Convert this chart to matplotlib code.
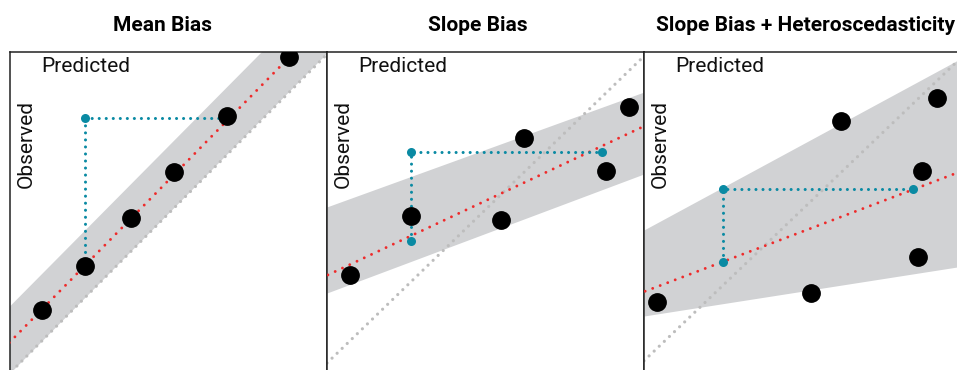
import matplotlib
matplotlib.use("Agg")
import matplotlib.pyplot as plt
import numpy as np

# ---- data (axis units 0-100) ----
titles = ["Mean Bias", "Slope Bias", "Slope Bias + Heteroscedasticity"]

obs_x = [
    [10.1, 23.7, 38.2, 51.7, 68.5, 88.0],
    [7.3, 26.5, 54.9, 62.1, 88.0, 95.3],
    [4.1, 52.7, 62.1, 86.4, 87.7, 92.4],
]
obs_y = [
    [19.4, 33.1, 48.1, 62.5, 80.0, 98.4],
    [30.3, 48.8, 47.5, 73.1, 62.8, 82.8],
    [21.9, 24.7, 78.4, 35.9, 62.8, 85.6],
]

# fitted line: intercept, slope
fit_intercept = [9.4, 30.2, 25.1]
fit_slope = [1.01, 0.466, 0.376]

# spread band edges at x = 0 and x = 100
band_x = [0, 100]
band_lower = [[-0.6, 99.4], [24.7, 61.9], [17.5, 33.0]]
band_upper = [[20.5, 120.5], [51.6, 87.5], [44.4, 98.0]]

# reference (1:1) line at x = 0 and x = 100
ref_x = [0, 100]
ref_y = [[-0.3, 99.3], [2.8, 98.7], [3.5, 98.2]]

# two predicted points joined by the guide (a = lower-left, b = right)
guide_xa = [23.7, 26.5, 24.9]
guide_ya = [33.1, 41.0, 34.4]
guide_xb = [68.5, 86.8, 84.9]
guide_yb = [79.4, 68.8, 57.2]
guide_all_dots = [False, True, True]

RED = "#ee2b2b"
TEAL = "#0a8aa3"
BAND = "#d1d2d4"
REF = "#bdbdbd"

W, H = 957, 370
fig = plt.figure(figsize=(W / 100, H / 100), dpi=100)

panel_w = 317
panel_h = 320
top_px = 52


def dotted(period_px, lw_pt):
    # round dots: near-zero dash with round caps, gap set in linewidth units
    lw_px = lw_pt * 100 / 72
    return (0, (0.01, period_px / lw_px))


for i in range(3):
    left_px = 10 + panel_w * i
    ax = fig.add_axes([left_px / W, (H - top_px - panel_h) / H,
                       panel_w / W, panel_h / H])
    ax.set_xlim(0, 100)
    ax.set_ylim(0, 100)
    ax.set_xticks([])
    ax.set_yticks([])
    for s in ax.spines.values():
        s.set_linewidth(1.1)
        s.set_color("#222222")

    bx = np.array(band_x)
    ax.fill_between(bx, band_lower[i], band_upper[i], color=BAND, lw=0, zorder=1)

    ax.plot(ref_x, ref_y[i], color=REF, lw=2.3, ls=dotted(7.0, 2.3),
            dash_capstyle="round", zorder=2)

    fx = np.array([-2.0, 102.0])
    ax.plot(fx, fit_intercept[i] + fit_slope[i] * fx, color=RED, lw=2.1,
            ls=dotted(8.0, 2.1), dash_capstyle="round", zorder=3)

    xa, ya = guide_xa[i], guide_ya[i]
    xb, yb = guide_xb[i], guide_yb[i]
    ax.plot([xa, xa, xb], [ya, yb, yb], color=TEAL, lw=2.2,
            ls=dotted(7.0, 2.2), dash_capstyle="round", zorder=4)

    ax.plot(obs_x[i], obs_y[i], "o", color="black", ms=12.5, zorder=5)

    if guide_all_dots[i]:
        ax.plot([xa, xa, xb], [ya, yb, yb], "o", color=TEAL, ms=6.5,
                mew=0, zorder=6)
    else:
        ax.plot([xa], [yb], "o", color=TEAL, ms=6.5, mew=0, zorder=6)

    # in-panel axis labels
    ax.text(31 / panel_w, 1 - 20 / panel_h, "Predicted", transform=ax.transAxes,
            fontsize=15, family="Roboto", ha="left", va="baseline", color="#111111")
    ax.text(22 / panel_w, 1 - 136 / panel_h, "Observed", transform=ax.transAxes,
            fontsize=15, family="Roboto", rotation=90, ha="left", va="baseline",
            rotation_mode="anchor", color="#111111")

# titles
fig.text(162.5 / W, 1 - 31 / H, titles[0], fontsize=15, family="Roboto",
         weight="bold", ha="center", va="baseline")
fig.text(477.5 / W, 1 - 31 / H, titles[1], fontsize=15, family="Roboto",
         weight="bold", ha="center", va="baseline")
fig.text(656 / W, 1 - 31 / H, titles[2], fontsize=15, family="Roboto",
         weight="bold", ha="left", va="baseline")

fig.savefig("out.png", dpi=100)
